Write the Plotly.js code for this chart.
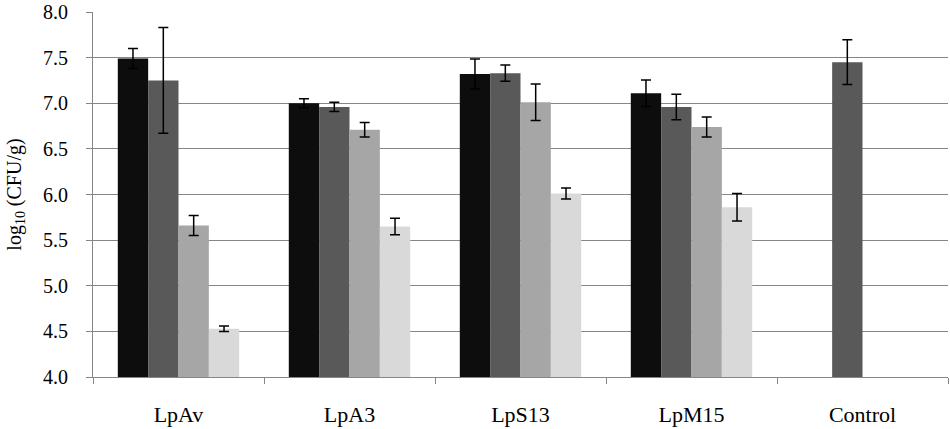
<!DOCTYPE html>
<html>
<head>
<meta charset="utf-8">
<script src="https://cdn.plot.ly/plotly-3.0.1.min.js"></script>
<style>
  html, body { margin: 0; padding: 0; background: #fff; }
  #chart { width: 950px; height: 429px; }
</style>
</head>
<body>
<div id="chart"></div>
<script>
var categories = ["LpAv", "LpA3", "LpS13", "LpM15", "Control"];

// four series (black, dark gray, mid gray, light gray); Control has only the second one
var s1 = [7.49, 7.00, 7.32, 7.11, null];
var s2 = [7.25, 6.96, 7.33, 6.96, 7.45];
var s3 = [5.66, 6.71, 7.01, 6.74, null];
var s4 = [4.53, 5.65, 6.01, 5.86, null];

var e1 = [0.11, 0.05, 0.165, 0.145, 0];
var e2 = [0.58, 0.05, 0.09, 0.14, 0.245];
var e3 = [0.11, 0.08, 0.20, 0.11, 0];
var e4 = [0.03, 0.09, 0.06, 0.15, 0];

var yTicks = [4, 4.5, 5, 5.5, 6, 6.5, 7, 7.5, 8];
var yTickText = ["4.0", "4.5", "5.0", "5.5", "6.0", "6.5", "7.0", "7.5", "8.0"];

var fills = ["#0d0d0d", "#595959", "#a6a6a6", "#d9d9d9"];
var series = [s1, s2, s3, s4];
var errs = [e1, e2, e3, e4];
var base = 4;

// bars start at 4.0: base 4 and the bar length is value minus base
var data = series.map(function (vals, i) {
    return {
        type: "bar",
        x: categories,
        y: vals.map(function (v) { return v === null ? null : v - base; }),
        base: base,
        marker: { color: fills[i], line: { width: 0 } },
        error_y: {
            type: "data",
            array: errs[i],
            visible: true,
            color: "#000",
            thickness: 1.5,
            width: 5
        },
        showlegend: false,
        hoverinfo: "skip"
    };
});

var layout = {
    width: 950,
    height: 429,
    margin: { l: 93, r: 2, t: 12, b: 52 },
    paper_bgcolor: "#fff",
    plot_bgcolor: "#fff",
    barmode: "group",
    bargap: 0.29,
    bargroupgap: 0,
    font: { family: "Liberation Serif, Times New Roman, serif", color: "#000" },
    xaxis: {
        type: "category",
        showline: true,
        linecolor: "#868686",
        linewidth: 1,
        ticks: "outside",
        tickson: "boundaries",
        ticklen: 6,
        tickcolor: "#868686",
        ticklabelstandoff: 18,
        tickfont: { size: 22 },
        showgrid: false,
        zeroline: false
    },
    yaxis: {
        range: [4, 8],
        tickvals: yTicks,
        ticktext: yTickText,
        showline: true,
        linecolor: "#868686",
        linewidth: 1,
        ticks: "outside",
        ticklen: 6,
        tickcolor: "#868686",
        ticklabelstandoff: 14,
        tickfont: { size: 20 },
        showgrid: true,
        gridcolor: "#868686",
        gridwidth: 1,
        zeroline: false,
        title: {
            text: "log<sub>10</sub> (CFU/g)",
            font: { size: 20 },
            standoff: 16
        }
    }
};

Plotly.newPlot("chart", data, layout, { displayModeBar: false, staticPlot: true });
</script>
</body>
</html>
